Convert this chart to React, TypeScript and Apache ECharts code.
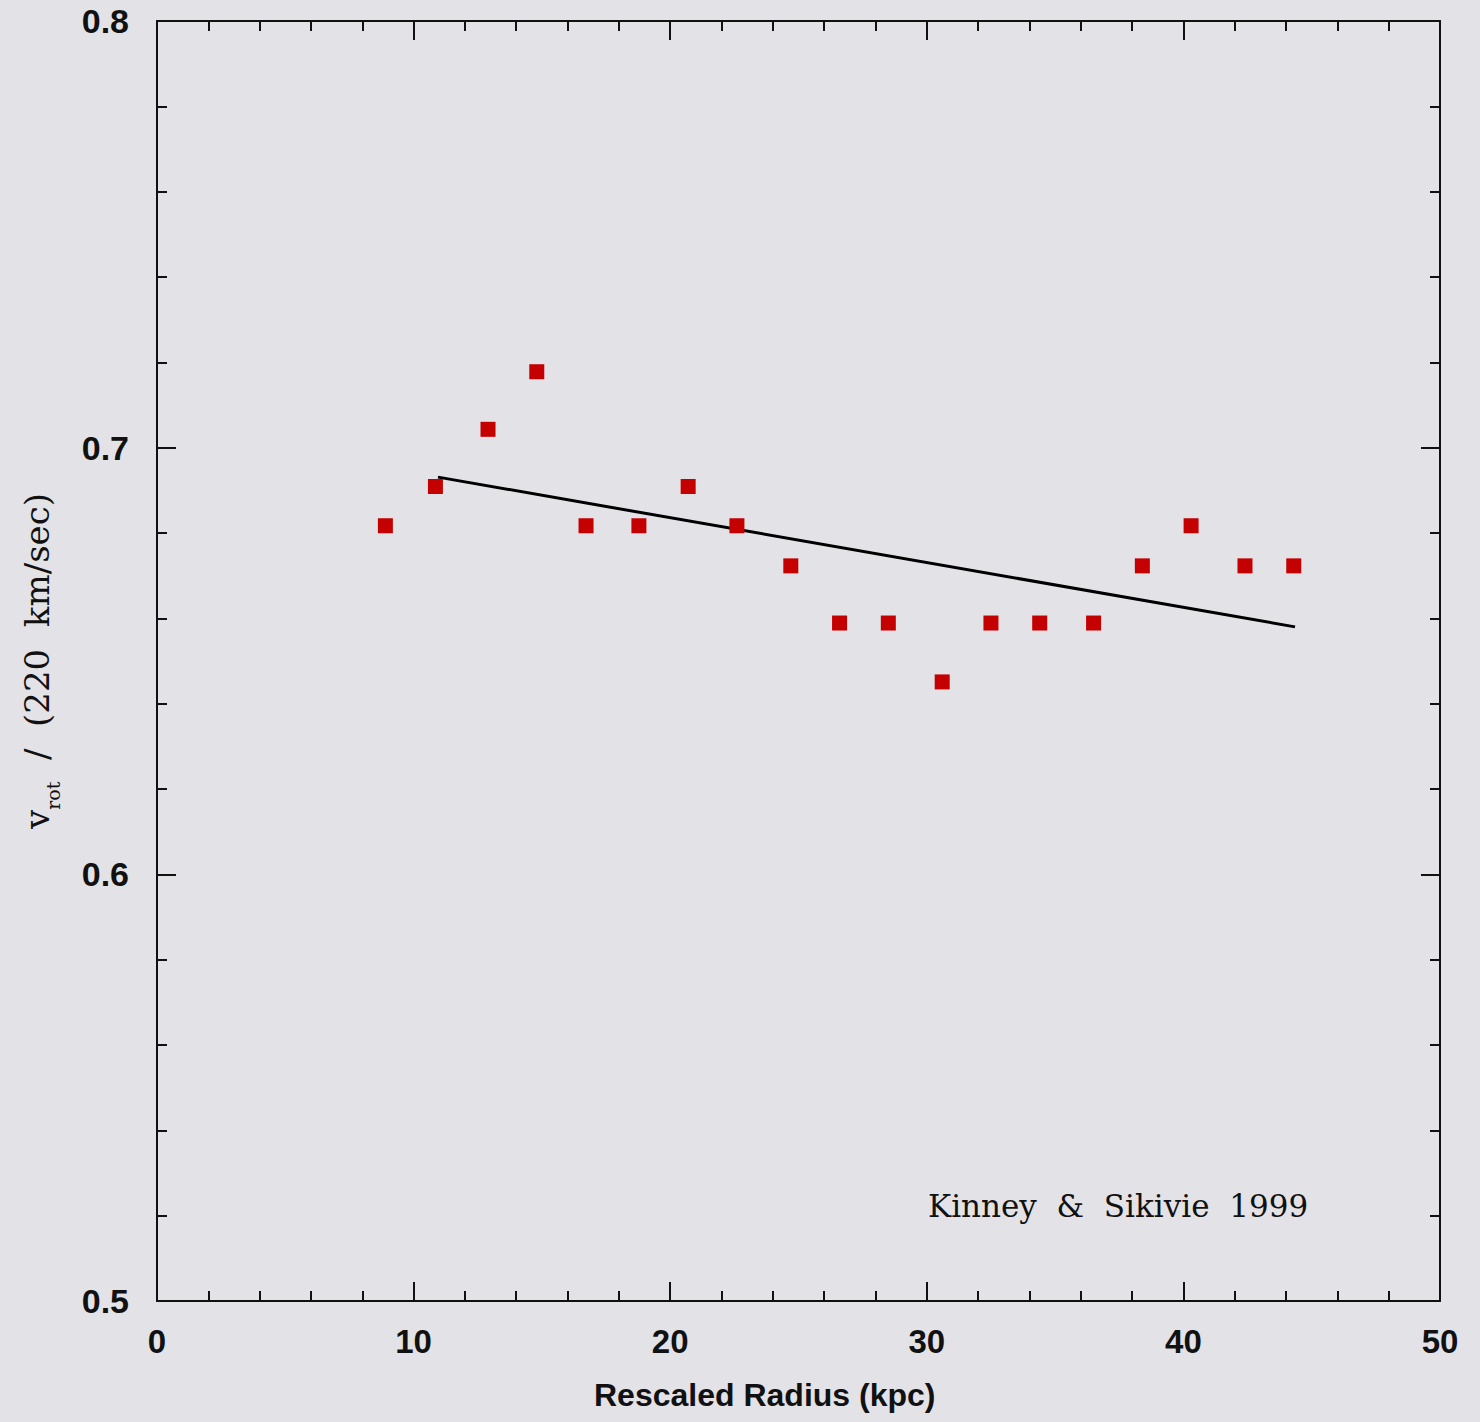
import React, { useEffect, useRef } from "react";
import * as echarts from "echarts";

const radius = [8.9, 10.85, 12.9, 14.8, 16.72, 18.78, 20.7, 22.6, 24.7, 26.6, 28.5, 30.6, 32.5, 34.4, 36.5, 38.4, 40.3, 42.4, 44.3];
const vrot = [0.6817, 0.6909, 0.7043, 0.7178, 0.6817, 0.6817, 0.6909, 0.6817, 0.6723, 0.6589, 0.6589, 0.6451, 0.6589, 0.6589, 0.6589, 0.6723, 0.6817, 0.6723, 0.6723];
const fitX = [10.95, 44.35];
const fitY = [0.6931, 0.658];
const xTicks = [0, 10, 20, 30, 40, 50];
const yTicks = [0.5, 0.6, 0.7, 0.8];
const credit = "Kinney & Sikivie 1999";

const BG = "#e3e3e7";

export default function App() {
  const ref = useRef<HTMLDivElement>(null);
  useEffect(() => {
    document.body.style.margin = "0";
    document.body.style.background = BG;
    const chart = echarts.init(ref.current!, null, { renderer: "svg" });
    const sans = "Liberation Sans";
    const tickStyle = { show: true, inside: true, length: 19, lineStyle: { color: "#111", width: 2 } };
    const minor = { show: true, splitNumber: 5, length: 10, lineStyle: { color: "#111", width: 2 } };
    const axLine = { show: true, onZero: false, lineStyle: { color: "#111", width: 2 } };
    chart.setOption({
      animation: false,
      backgroundColor: BG,
      grid: { left: 157, right: 40, top: 21, bottom: 121 },
      xAxis: [
        {
          type: "value", min: 0, max: 50, interval: 10, position: "bottom",
          axisLine: axLine, axisTick: tickStyle, minorTick: minor, splitLine: { show: false },
          axisLabel: { show: true, margin: 24, color: "#111", fontFamily: sans, fontSize: 33, fontWeight: "bold",
            formatter: (v: number) => (xTicks.includes(v) ? String(v) : "") },
        },
        {
          type: "value", min: 0, max: 50, interval: 10, position: "top",
          axisLine: axLine, axisTick: tickStyle, minorTick: minor, splitLine: { show: false },
          axisLabel: { show: false },
        },
      ],
      yAxis: [
        {
          type: "value", min: 0.5, max: 0.8, interval: 0.1, position: "left",
          axisLine: axLine, axisTick: tickStyle, minorTick: minor, splitLine: { show: false },
          axisLabel: { show: true, margin: 28, color: "#111", fontFamily: sans, fontSize: 34, fontWeight: "bold",
            formatter: (v: number) => { const t = yTicks.find((y) => Math.abs(y - v) < 1e-6); return t !== undefined ? t.toFixed(1) : ""; } },
          name: "{v|v}{s|rot}{v|  /  (220  km/sec)}",
          nameLocation: "middle", nameRotate: 90, nameGap: 103,
          nameTextStyle: {
            color: "#111",
            rich: {
              v: { fontFamily: "DejaVu Serif", fontSize: 34, color: "#111", verticalAlign: "bottom" },
              s: { fontFamily: "DejaVu Serif", fontSize: 19, color: "#111", verticalAlign: "bottom", padding: [0, 0, -8, 0] },
            },
          },
        },
        {
          type: "value", min: 0.5, max: 0.8, interval: 0.1, position: "right",
          axisLine: axLine, axisTick: tickStyle, minorTick: minor, splitLine: { show: false },
          axisLabel: { show: false },
        },
      ],
      graphic: [
        {
          type: "text", left: 594, top: 1379,
          style: { text: "Rescaled Radius (kpc)", font: `bold 32px "${sans}"`, fill: "#111" },
        },
        {
          type: "text", left: 928, top: 1190,
          style: { text: credit.split(" ").join("  "), font: `31px "DejaVu Serif"`, fill: "#111" },
        },
      ],
      series: [
        {
          type: "line", data: fitX.map((x, i) => [x, fitY[i]]), showSymbol: false, symbol: "none",
          lineStyle: { color: "#000", width: 3 }, z: 2,
        },
        {
          type: "scatter", data: radius.map((x, i) => [x, vrot[i]]), symbol: "rect", symbolSize: 15,
          itemStyle: { color: "#c40000", opacity: 1 }, z: 3,
        },
      ],
    });
    return () => chart.dispose();
  }, []);
  return <div ref={ref} style={{ width: 1480, height: 1422 }} />;
}
